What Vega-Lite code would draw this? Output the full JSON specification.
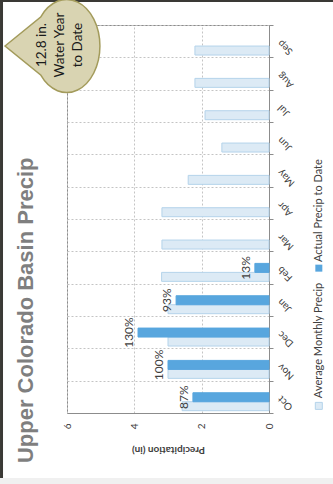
{
  "$schema": "https://vega.github.io/schema/vega-lite/v6.json",
  "width": 202,
  "height": 388,
  "autosize": {"type": "none"},
  "padding": {"left": 67, "top": 25, "right": 64, "bottom": 71},
  "background": "white",
  "config": {"view": {"stroke": "#8c8c8c", "strokeWidth": 1}, "font": "Lato"},
  "datasets": {
    "precip": [
      {"month": "Oct", "series": "Average", "value": 2.58},
      {"month": "Nov", "series": "Average", "value": 3.0},
      {"month": "Dec", "series": "Average", "value": 3.0},
      {"month": "Jan", "series": "Average", "value": 3.0},
      {"month": "Feb", "series": "Average", "value": 3.19},
      {"month": "Mar", "series": "Average", "value": 3.18},
      {"month": "Apr", "series": "Average", "value": 3.18},
      {"month": "May", "series": "Average", "value": 2.4},
      {"month": "Jun", "series": "Average", "value": 1.4},
      {"month": "Jul", "series": "Average", "value": 1.9},
      {"month": "Aug", "series": "Average", "value": 2.2},
      {"month": "Sep", "series": "Average", "value": 2.2},
      {"month": "Oct", "series": "Actual", "value": 2.26, "label": "87%"},
      {"month": "Nov", "series": "Actual", "value": 3.0, "label": "100%"},
      {"month": "Dec", "series": "Actual", "value": 3.89, "label": "130%"},
      {"month": "Jan", "series": "Actual", "value": 2.76, "label": "93%"},
      {"month": "Feb", "series": "Actual", "value": 0.42, "label": "13%"}
    ]
  },
  "layer": [
    {
      "data": {"name": "precip"},
      "encoding": {
        "y": {
          "field": "month", "type": "nominal",
          "sort": ["Sep","Aug","Jul","Jun","May","Apr","Mar","Feb","Jan","Dec","Nov","Oct"],
          "scale": {"domain": ["Sep","Aug","Jul","Jun","May","Apr","Mar","Feb","Jan","Dec","Nov","Oct"], "paddingInner": 0, "paddingOuter": 0},
          "axis": {
            "orient": "right", "title": null, "labelAngle": 225, "labelAlign": "right", "labelBaseline": "middle",
            "labelPadding": 6, "labelFontSize": 10, "labelColor": "#404040", "labelFont": "Lato",
            "tickBand": "extent", "tickSize": 4, "tickColor": "#8c8c8c", "domainColor": "#8c8c8c",
            "grid": true, "gridColor": "#c4c4c4", "gridDash": [2, 2]
          }
        },
        "yOffset": {"field": "series", "scale": {"domain": ["Actual", "Average"], "paddingInner": 0, "paddingOuter": 0.8, "align": 0.84}},
        "x": {
          "field": "value", "type": "quantitative",
          "scale": {"domain": [0, 6], "reverse": true, "nice": false, "zero": false},
          "axis": {
            "title": "Precipitation (in)", "values": [0, 2, 4, 6], "labelAngle": 270, "labelAlign": "right", "labelBaseline": "middle",
            "labelFlush": false, "labelPadding": 10, "labelFontSize": 10, "labelColor": "#404040", "labelFont": "Lato", "ticks": false,
            "domainColor": "#8c8c8c", "grid": true, "gridColor": "#c4c4c4", "gridDash": [2, 2],
            "titleAngle": 180, "titleFontSize": 10, "titleFontWeight": "bold", "titleColor": "#404040", "titleFont": "Lato", "titlePadding": 26
          }
        }
      },
      "layer": [
        {
          "mark": {"type": "bar", "strokeWidth": 1},
          "encoding": {
            "fill": {"field": "series", "type": "nominal", "scale": {"domain": ["Average", "Actual"], "range": ["#dceaf5", "#58a6de"]}, "legend": null},
            "stroke": {"field": "series", "type": "nominal", "scale": {"domain": ["Average", "Actual"], "range": ["#b4d3ea", "#58a6de"]}, "legend": null}
          }
        },
        {
          "transform": [{"filter": "datum.label"}],
          "mark": {"type": "text", "angle": 270, "align": "center", "baseline": "alphabetic", "dy": -5, "fontSize": 12, "color": "#404040", "font": "Lato"},
          "encoding": {"text": {"field": "label"}}
        }
      ]
    },
    {
      "data": {"values": [{}]},
      "layer": [
        {
          "mark": {"type": "rect", "fill": "#f0f0f0"},
          "encoding": {
            "x": {"datum": 8.0, "type": "quantitative", "scale": {"domain": [0, 6], "reverse": true, "nice": false, "zero": false}}, "x2": {"datum": -2.0},
            "y": {"datum": -2.01, "type": "quantitative", "scale": {"domain": [0, 12], "nice": false}, "axis": null}, "y2": {"datum": -2.3}
          }
        },
        {
          "mark": {"type": "rule", "stroke": "#3a3935", "strokeWidth": 3},
          "encoding": {
            "x": {"datum": 7.945, "type": "quantitative", "scale": {"domain": [0, 6], "reverse": true, "nice": false, "zero": false}},
            "y": {"datum": 12.8, "type": "quantitative", "scale": {"domain": [0, 12], "nice": false}, "axis": null}, "y2": {"datum": -2.01}
          }
        },
        {
          "mark": {"type": "rule", "stroke": "#3a3935", "strokeWidth": 2},
          "encoding": {
            "x": {"datum": 8.0, "type": "quantitative", "scale": {"domain": [0, 6], "reverse": true, "nice": false, "zero": false}}, "x2": {"datum": -2.0},
            "y": {"datum": 12.74, "type": "quantitative", "scale": {"domain": [0, 12], "nice": false}, "axis": null}
          }
        },
        {
          "mark": {"type": "point", "shape": "M-1,0 L-0.25,-0.61 A0.7,0.98 0 1 1 -0.25,0.61 Z", "size": 9025, "filled": true, "fill": "#d9d4b2", "stroke": "#a39b5b", "strokeWidth": 1.5, "opacity": 1},
          "encoding": {
            "x": {"datum": 6.43, "type": "quantitative", "scale": {"domain": [0, 6], "reverse": true, "nice": false, "zero": false}},
            "y": {"datum": 11.35, "type": "quantitative", "scale": {"domain": [0, 12], "nice": false}, "axis": null}
          }
        },
        {
          "mark": {"type": "text", "text": ["12.8 in.", "Water Year", "to Date"], "angle": 270, "align": "center", "baseline": "top", "lineHeight": 18, "fontSize": 13.5, "color": "#1a1a1a", "font": "Lato"},
          "encoding": {
            "x": {"datum": 6.965, "type": "quantitative", "scale": {"domain": [0, 6], "reverse": true, "nice": false, "zero": false}},
            "y": {"datum": 11.38, "type": "quantitative", "scale": {"domain": [0, 12], "nice": false}, "axis": null}
          }
        },
        {
          "mark": {"type": "text", "text": "Upper Colorado Basin Precip", "angle": 270, "align": "left", "baseline": "alphabetic", "fontSize": 22, "fontWeight": "bold", "font": "Liberation Sans", "color": "#7f7f7f"},
          "encoding": {
            "x": {"datum": 7.01, "type": "quantitative", "scale": {"domain": [0, 6], "reverse": true, "nice": false, "zero": false}},
            "y": {"datum": -1.55, "type": "quantitative", "scale": {"domain": [0, 12], "nice": false}, "axis": null}
          }
        },
        {
          "mark": {"type": "point", "shape": "square", "size": 49, "filled": true, "fill": "#dceaf5", "stroke": "#b4d3ea", "strokeWidth": 1, "opacity": 1},
          "encoding": {
            "x": {"datum": -1.48, "type": "quantitative", "scale": {"domain": [0, 6], "reverse": true, "nice": false, "zero": false}},
            "y": {"datum": 0.22, "type": "quantitative", "scale": {"domain": [0, 12], "nice": false}, "axis": null}
          }
        },
        {
          "mark": {"type": "point", "shape": "square", "size": 49, "filled": true, "fill": "#58a6de", "opacity": 1},
          "encoding": {
            "x": {"datum": -1.48, "type": "quantitative", "scale": {"domain": [0, 6], "reverse": true, "nice": false, "zero": false}},
            "y": {"datum": 4.48, "type": "quantitative", "scale": {"domain": [0, 12], "nice": false}, "axis": null}
          }
        },
        {
          "mark": {"type": "text", "text": "Average Monthly Precip", "angle": 270, "align": "left", "baseline": "middle", "fontSize": 11, "color": "#404040", "font": "Lato"},
          "encoding": {
            "x": {"datum": -1.48, "type": "quantitative", "scale": {"domain": [0, 6], "reverse": true, "nice": false, "zero": false}},
            "y": {"datum": 0.46, "type": "quantitative", "scale": {"domain": [0, 12], "nice": false}, "axis": null}
          }
        },
        {
          "mark": {"type": "text", "text": "Actual Precip to Date", "angle": 270, "align": "left", "baseline": "middle", "fontSize": 11, "color": "#404040", "font": "Lato"},
          "encoding": {
            "x": {"datum": -1.48, "type": "quantitative", "scale": {"domain": [0, 6], "reverse": true, "nice": false, "zero": false}},
            "y": {"datum": 4.67, "type": "quantitative", "scale": {"domain": [0, 12], "nice": false}, "axis": null}
          }
        }
      ]
    }
  ],
  "resolve": {"scale": {"y": "independent"}, "axis": {"y": "independent"}}
}
